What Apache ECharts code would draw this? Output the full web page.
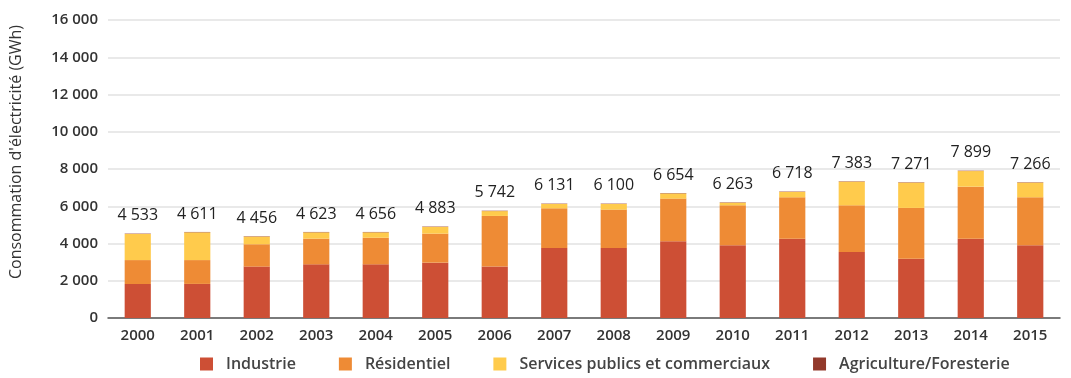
<!DOCTYPE html>
<html>
<head>
<meta charset="utf-8">
<script src="https://cdn.jsdelivr.net/npm/echarts@6/dist/echarts.min.js"></script>
<style>html,body{margin:0;padding:0;background:#fff;}#c{width:1071px;height:378px;}</style>
</head>
<body>
<div id="c"></div>
<script>
const years = ['2000','2001','2002','2003','2004','2005','2006','2007','2008','2009','2010','2011','2012','2013','2014','2015'];
const industrie = [1826,1830,2760,2880,2880,2970,2760,3760,3760,4120,3900,4260,3540,3180,4260,3900];
const residentiel = [1284,1280,1200,1380,1430,1560,2720,2130,2060,2290,2150,2220,2510,2730,2790,2580];
const services = [1400,1490,410,340,290,360,260,230,300,280,140,290,1270,1360,840,790];
const agriculture = [20,20,20,20,20,20,20,20,20,20,20,20,20,20,20,20];
const totals = [4533,4611,4456,4623,4656,4883,5742,6131,6100,6654,6263,6718,7383,7271,7899,7266];
const yTicks = [0,2000,4000,6000,8000,10000,12000,14000,16000];

const fmt = v => String(v).replace(/\B(?=(\d{3})+(?!\d))/g, ' ');
const FONT = 'Open Sans';
const chart = echarts.init(document.getElementById('c'), null, {renderer:'canvas'});
const base = {type:'bar', stack:'t', barWidth:'44%'};
chart.setOption({
  animation:false,
  textStyle:{fontFamily:FONT},
  grid:{left:107, right:11, top:20, bottom:60},
  legend:{
    bottom:1, left:195, itemWidth:13, itemHeight:13, itemGap:43, icon:'rect',
    textStyle:{fontFamily:FONT, fontSize:16, fontWeight:600, color:'#444', padding:[0,0,0,8]},
    data:['Industrie','Résidentiel','Services publics et commerciaux','Agriculture/Foresterie']
  },
  xAxis:{
    type:'category', data:years,
    axisLine:{lineStyle:{color:'#555', width:1.5}},
    axisTick:{show:false},
    axisLabel:{fontFamily:FONT, fontSize:15, fontWeight:600, color:'#333', margin:10}
  },
  yAxis:{
    type:'value', min:yTicks[0], max:yTicks[yTicks.length-1], interval:2000,
    name:"Consommation d'électricité (GWh)", nameLocation:'middle', nameGap:84,
    nameTextStyle:{fontFamily:FONT, fontSize:16, color:'#333', padding:[0,0,0,34]},
    axisLine:{show:false}, axisTick:{show:false},
    splitLine:{lineStyle:{color:'#e2e2e2', width:1.5}},
    axisLabel:{fontFamily:FONT, fontSize:15, fontWeight:600, color:'#333', margin:10, formatter:v=>fmt(v)}
  },
  series:[
    Object.assign({name:'Industrie', data:industrie, itemStyle:{color:'#CD4F35'}}, base),
    Object.assign({name:'Résidentiel', data:residentiel, itemStyle:{color:'#EE8B35'}}, base),
    Object.assign({name:'Services publics et commerciaux', data:services, itemStyle:{color:'#FFCB4C'}}, base),
    Object.assign({name:'Agriculture/Foresterie', data:agriculture, itemStyle:{color:'#92392B'},
      label:{show:true, position:'top', distance:10, fontFamily:FONT, fontSize:16, color:'#222',
        formatter:p=>fmt(totals[p.dataIndex])}}, base)
  ]
});
</script>
</body>
</html>
